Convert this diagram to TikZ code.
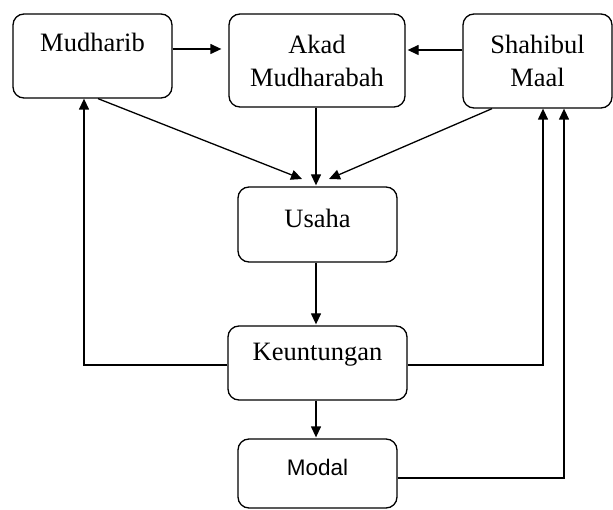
\documentclass[tikz,border=0pt]{standalone}
\usepackage{fontspec}
\setmainfont{Liberation Serif}
\newfontfamily\arialfont{Liberation Sans}
\usetikzlibrary{arrows.meta,calc}
\begin{document}
\begin{tikzpicture}[x=1pt,y=-1pt,
  box/.style={draw,line width=1.3pt,rounded corners=11pt,inner sep=0pt},
  txt/.style={font=\fontsize{26.5}{33}\selectfont,align=center,inner sep=0pt},
  arr/.style={line width=1.3pt,-{Triangle[length=11pt,width=10pt]}},
  ln/.style={line width=1.3pt}]
\useasboundingbox (0,0) rectangle (613,510);
% boxes
\node[box,minimum width=159pt,minimum height=84pt] (mud) at (92.5,56) {};
\node[box,minimum width=176pt,minimum height=93pt] (akad) at (317,60.5) {};
\node[box,minimum width=149pt,minimum height=94pt] (shah) at (537.5,61) {};
\node[box,minimum width=159pt,minimum height=75pt] (usaha) at (317.5,224.5) {};
\node[box,minimum width=179pt,minimum height=74pt] (keun) at (317.5,363) {};
\node[box,minimum width=159pt,minimum height=69pt] (modal) at (317.5,473.5) {};
% texts
\node[txt] (tmud) at (92.5,42) {Mudharib};
\node[txt] (takad) at (317,61) {Akad\\Mudharabah};
\node[txt] (tshah) at (537.5,61) {Shahibul\\Maal};
\node[txt] (tusaha) at (317.5,218) {Usaha};
\node[txt] (tkeun) at (317.5,355) {Keuntungan};
\node[txt,font=\arialfont\fontsize{22.5}{26}\selectfont] (tmodal) at (317.5,467) {Modal};
% connectors
\coordinate (m1) at (mud.east |- 0,49);
\coordinate (a1) at ($(akad.west |- 0,49)+(-7,0)$);
\draw[arr] (m1) -- (a1);
\coordinate (s1) at (shah.west |- 0,50);
\coordinate (a2) at ($(akad.east |- 0,50)+(2,0)$);
\draw[arr] (s1) -- (a2);
\coordinate (mb) at (mud.south -| 98,0);
\coordinate (ut1) at (302,179);
\draw[arr] (mb) -- (ut1);
\coordinate (ab) at (akad.south -| 316,0);
\coordinate (ut2) at (usaha.north -| 316,0);
\draw[arr] (ab) -- ($(ut2)+(0,-1)$);
\coordinate (sb) at (shah.south -| 492,0);
\coordinate (ut3) at (329,179);
\draw[arr] (sb) -- (ut3);
\draw[arr] (usaha.south -| 316,0) -- ($(keun.north -| 316,0)+(0,-1)$);
\draw[arr] (keun.south -| 316,0) -- ($(modal.north -| 316,0)+(0,-1)$);
\draw[arr] (keun.west |- 0,365) -| (mud.south -| 84,0);
\draw[arr] (keun.east |- 0,365) -| (shah.south -| 543,0);
\draw[arr] (modal.east |- 0,478) -| (shah.south -| 564,0);
\end{tikzpicture}
\end{document}
